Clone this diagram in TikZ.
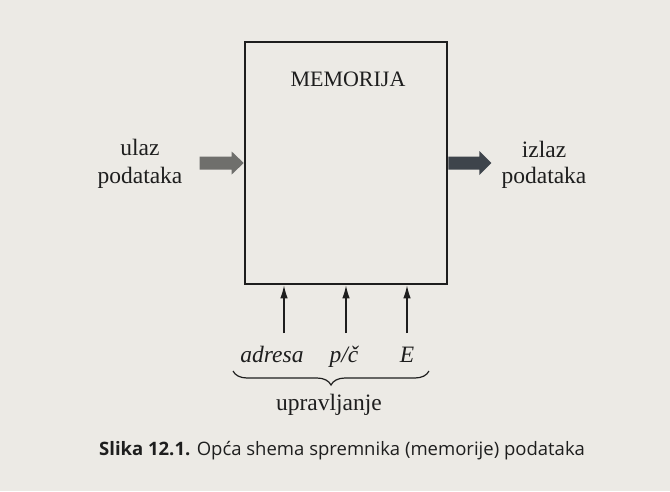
\documentclass[tikz,border=0pt]{standalone}
\usepackage{fontspec}
\setmainfont{Liberation Serif}
\newfontfamily\capfont{Open Sans}
\usetikzlibrary{arrows.meta,decorations.pathreplacing}
\definecolor{paper}{HTML}{ECEAE5}
\definecolor{ink}{HTML}{1E1E1E}
\definecolor{inarrow}{HTML}{6F6F6C}
\definecolor{outarrow}{HTML}{3E444B}
\tikzset{
  lbl/.style={font=\fontsize{23.5}{27}\selectfont, align=center, inner sep=0pt, text=ink},
  sig/.style={font=\fontsize{23.5}{27}\selectfont\itshape, inner sep=0pt, text=ink},
  ctl/.style={line width=1.3pt, draw=ink, -{Latex[length=13pt,width=7.5pt]}},
  memory/.style={draw=ink, line width=2.6pt, minimum width=202pt, minimum height=242pt, inner sep=0pt}
}
\begin{document}
\begin{tikzpicture}[x=1pt,y=-1pt]
\fill[paper] (0,0) rectangle (670,491);
\useasboundingbox (0,0) rectangle (670,491);
\node[memory] (mem) at (346,163) {};
\node[lbl, anchor=base, font=\fontsize{22}{26}\selectfont] (title) at (348,86) {MEMORIJA};
\node[lbl, anchor=base, font=\fontsize{23.5}{28}\selectfont] (in) at (140,183) {ulaz\\podataka};
\node[lbl, anchor=base, font=\fontsize{23.5}{25.5}\selectfont] (out) at (544,183) {izlaz\\podataka};
% input block arrow
\coordinate (inT) at (mem.west |- 0,163);
\fill[inarrow] ([xshift=-44pt,yshift=-6.5pt]inT) -- ([xshift=-12pt,yshift=-6.5pt]inT) -- ([xshift=-12pt,yshift=-11.5pt]inT) -- (inT) -- ([xshift=-12pt,yshift=11.5pt]inT) -- ([xshift=-12pt,yshift=6.5pt]inT) -- ([xshift=-44pt,yshift=6.5pt]inT) -- cycle;
% output block arrow
\coordinate (outS) at (mem.east |- 0,163);
\fill[outarrow] ([yshift=-6.5pt]outS) -- ([xshift=31pt,yshift=-6.5pt]outS) -- ([xshift=31pt,yshift=-12pt]outS) -- ([xshift=43pt]outS) -- ([xshift=31pt,yshift=12pt]outS) -- ([xshift=31pt,yshift=6.5pt]outS) -- ([yshift=6.5pt]outS) -- cycle;
% control signals
\node[sig, anchor=base] (adr) at (272,362) {adresa};
\node[sig, anchor=base] (pc) at (344,362) {p/č};
\node[sig, anchor=base] (en) at (407,362) {E};
\coordinate (a0) at (284,333);
\coordinate (p0) at (346,333);
\coordinate (e0) at (407,333);
\draw[ctl] (a0) -- (a0 |- mem.south);
\draw[ctl] (p0) -- (p0 |- mem.south);
\draw[ctl] (e0) -- (e0 |- mem.south);
\coordinate (bL) at (233,371);
\coordinate (bR) at (429,371);
\draw[line width=1.2pt, draw=ink, decorate, decoration={brace, mirror, amplitude=14pt}] (bL) -- (bR);
\node[lbl, anchor=base] (upr) at (329,410) {upravljanje};
\node[inner sep=0pt, anchor=base west, text=ink, font=\capfont\fontsize{18.5}{21}\selectfont] (cap) at (99,455) {\textbf{Slika 12.1.} Opća shema spremnika (memorije) podataka};
\end{tikzpicture}
\end{document}
